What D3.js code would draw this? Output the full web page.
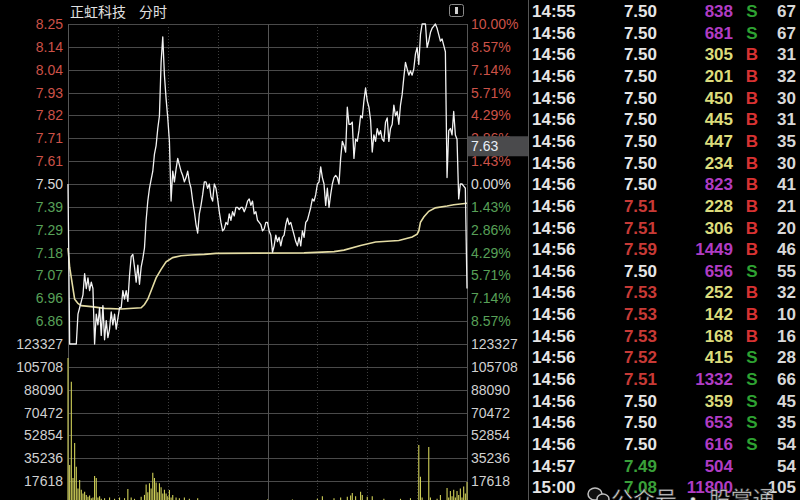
<!DOCTYPE html>
<html><head><meta charset="utf-8">
<script src="https://cdn.jsdelivr.net/npm/d3@7"></script>
<style>html,body{margin:0;padding:0;background:#000;overflow:hidden}</style>
</head><body><svg id="c" width="800" height="500"></svg>
<script>
// ---------- data ----------
const stockName = "正虹科技";
const chartKind = "分时";
const preClose = 7.50;
// price per minute, 0 = 09:30 ... 240 = 15:00
const minutePrice = [
 7.50,6.75,6.75,6.75,6.75,6.75,6.89,6.92,6.95,6.98,
 7.08,7.01,7.06,7.00,7.04,7.01,6.75,6.89,6.84,6.92,
 6.79,6.93,6.77,6.86,6.78,6.82,6.90,6.84,6.89,6.82,
 6.87,6.92,6.92,7.00,6.96,7.00,6.95,7.07,7.16,7.17,
 7.11,7.04,7.12,7.03,7.11,7.15,7.20,7.33,7.42,7.48,
 7.52,7.56,7.64,7.68,7.76,7.82,8.07,8.19,8.01,7.90,
 7.81,7.70,7.42,7.56,7.51,7.57,7.62,7.59,7.56,7.54,
 7.51,7.53,7.56,7.51,7.48,7.42,7.37,7.31,7.27,7.36,
 7.40,7.45,7.51,7.51,7.48,7.50,7.44,7.42,7.50,7.48,
 7.43,7.37,7.32,7.28,7.29,7.32,7.31,7.36,7.33,7.37,
 7.35,7.39,7.39,7.38,7.39,7.39,7.37,7.39,7.42,7.43,
 7.40,7.42,7.36,7.37,7.33,7.32,7.31,7.28,7.29,7.32,
 7.32,7.28,7.26,7.18,7.21,7.26,7.23,7.25,7.21,7.25,
 7.26,7.31,7.34,7.31,7.32,7.29,7.26,7.23,7.21,7.25,
 7.21,7.28,7.25,7.32,7.33,7.36,7.39,7.43,7.42,7.45,
 7.50,7.51,7.58,7.53,7.50,7.40,7.48,7.39,7.45,7.50,
 7.53,7.54,7.53,7.50,7.62,7.70,7.68,7.65,7.86,7.78,
 7.78,7.79,7.62,7.71,7.70,7.75,7.82,7.81,7.89,7.95,
 7.89,7.86,7.80,7.65,7.73,7.70,7.76,7.73,7.75,7.71,
 7.70,7.79,7.81,7.70,7.76,7.78,7.87,7.82,7.84,7.78,
 7.87,7.92,8.00,8.07,8.04,8.01,8.03,8.01,8.04,8.11,
 8.14,8.06,8.20,8.25,8.25,8.25,8.14,8.17,8.21,8.23,
 8.24,8.25,8.23,8.20,8.17,8.18,8.15,8.12,7.53,7.75,
 7.76,7.73,7.84,7.73,7.71,7.43,7.50,7.50,7.49,7.48,
 7.01
];
// average price line [minute, price]
const avgPrice = [[0,7.20],[1,7.11],[3,7.01],[4,6.96],[6,6.94],[8,6.93],[14,6.925],[22,6.917],[32,6.914],
 [44,6.92],[46,6.935],[48,6.96],[50,7.00],[53,7.06],[56,7.10],[59,7.135],[63,7.155],[68,7.164],[74,7.167],
 [82,7.17],[89,7.175],[142,7.177],[160,7.183],[166,7.19],[176,7.212],[185,7.228],[199,7.235],[207,7.252],
 [210,7.265],[211,7.28],[212,7.32],[214,7.345],[217,7.372],[221,7.388],[228,7.397],[232,7.403],[240,7.41]];
// visible volume bars [minute, volume]
const volumeBars = [[0,112500],[1,30000],[2,94300],[3,20000],[4,47000],[5,28700],[6,12000],[7,18500],[8,11000],
 [9,8000],[10,9500],[11,7000],[12,5500],[13,6500],[14,4500],[15,5000],[16,21500],[17,20000],[18,5000],[19,6000],
 [20,4000],[22,4500],[25,5000],[28,4000],[31,5000],[34,4500],[36,11500],[38,5000],[40,4000],[44,5500],[46,7000],
 [47,15000],[48,9000],[49,16000],[50,12000],[51,24000],[52,20000],[53,16500],[54,9000],[55,16000],[56,13000],
 [57,8000],[58,11000],[59,8000],[60,6000],[61,10800],[62,5000],[63,7000],[65,5000],[67,4500],[70,5000],[73,4000],
 [78,4500],[120,3500],[135,3500],[150,4000],[153,6000],[160,4500],[164,5000],[168,5500],[170,6500],[171,8500],
 [173,6000],[176,9500],[177,7000],[180,5500],[183,6000],[190,4000],[200,4000],[206,4500],[211,45500],[212,21000],
 [213,5000],[217,44000],[218,5000],[222,4000],[224,7000],[228,12300],[229,5000],[230,10000],[231,6000],[232,11000],
 [233,5000],[234,10000],[235,7000],[236,12000],[237,5000],[238,13400],[239,8000],[240,17000]];
const pctTicks = [10.00,8.57,7.14,5.71,4.29,2.86,1.43,0,-1.43,-2.86,-4.29,-5.71,-7.14,-8.57];
const priceTickLabels = ["8.25","8.14","8.04","7.93","7.82","7.71","7.61","7.50","7.39","7.29","7.18","7.07","6.96","6.86"];
const volTicks = [123327,105708,88090,70472,52854,35236,17618];
const timeTicks = [0,30,60,90,120,150,180,210,240];
const cursorPrice = 7.63;
// trade list
const tradeTime = ["14:55","14:56","14:56","14:56","14:56","14:56","14:56","14:56","14:56","14:56","14:56","14:56",
 "14:56","14:56","14:56","14:56","14:56","14:56","14:56","14:56","14:56","14:57","15:00"];
const tradePrice = ["7.50","7.50","7.50","7.50","7.50","7.50","7.50","7.50","7.50","7.51","7.51","7.59",
 "7.50","7.53","7.53","7.53","7.52","7.51","7.50","7.50","7.50","7.49","7.08"];
const tradeVol = [838,681,305,201,450,445,447,234,823,228,306,1449,656,252,142,168,415,1332,359,653,616,504,11800];
const tradeSide = ["S","S","B","B","B","B","B","B","B","B","B","B","S","B","B","B","S","S","S","S","S","",""];
const tradeCount = [67,67,31,32,30,31,35,30,41,21,20,46,55,32,10,16,28,66,45,35,54,54,105];
const watermark = "公众号 · 股掌通";

// ---------- drawing ----------
const svg = d3.select("#c");
svg.append("rect").attr("width",800).attr("height",500).attr("fill","#000");
const L = 68, R = 467;
const x = d3.scaleLinear().domain([0,240]).range([L,R]);
const y = d3.scaleLinear().domain([preClose*0.9, preClose*1.1]).range([344,24]);
const v = d3.scaleLinear().domain([0, volTicks[0]]).range([504,344]);
const font = "'Liberation Sans', Arial, sans-serif";

// grid horizontal
const g = svg.append("g");
pctTicks.forEach(p=>{
  const yy = Math.round(y(preClose*(1+p/100)))+0.5;
  g.append("line").attr("x1",L).attr("x2",R).attr("y1",yy).attr("y2",yy).attr("stroke","#4a4a4a");
});
volTicks.forEach(t=>{
  const yy = Math.round(v(t))+0.5;
  g.append("line").attr("x1",L).attr("x2",R).attr("y1",yy).attr("y2",yy).attr("stroke","#4a4a4a");
});
// grid vertical
timeTicks.forEach((t,i)=>{
  const xx = Math.round(x(t))+0.5;
  const solid = (t===0||t===120||t===240);
  g.append("line").attr("x1",xx).attr("x2",xx).attr("y1",24).attr("y2",500)
   .attr("stroke", solid? "#555":"#3e3e3e").attr("stroke-dasharray", solid? null : "1,2");
});
// separator
svg.append("line").attr("x1",528.5).attr("x2",528.5).attr("y1",0).attr("y2",500).attr("stroke","#555");

// volume bars
svg.append("g").selectAll("line").data(volumeBars).join("line")
  .attr("x1",d=>x(d[0])).attr("x2",d=>x(d[0])).attr("y1",v(0)).attr("y2",d=>v(d[1]))
  .attr("stroke","#d0d058").attr("stroke-width",1.1);

// avg line
svg.append("path").datum(avgPrice)
  .attr("d", d3.line().x(d=>x(d[0])).y(d=>y(d[1])))
  .attr("fill","none").attr("stroke","#e4dca4").attr("stroke-width",1.6);
// price line
svg.append("path").datum(minutePrice)
  .attr("d", d3.line().x((d,i)=>x(i)).y(d=>y(d)))
  .attr("fill","none").attr("stroke","#f2f2f2").attr("stroke-width",1.3).attr("stroke-linejoin","round");

// axis labels
const red = "#cc5248", green = "#58a058", white = "#d8d8d8";
pctTicks.forEach((p,i)=>{
  const yy = y(preClose*(1+p/100));
  const col = p>0? red : (p<0? green : white);
  svg.append("text").attr("x",63).attr("y",yy).attr("dy","0.36em").attr("text-anchor","end")
   .attr("font-family",font).attr("font-size",14).attr("fill",col).text(priceTickLabels[i]);
  svg.append("text").attr("x",471).attr("y",yy).attr("dy","0.36em")
   .attr("font-family",font).attr("font-size",14).attr("fill",col).text(Math.abs(p).toFixed(2)+"%");
});
volTicks.forEach(t=>{
  const yy = v(t);
  svg.append("text").attr("x",63).attr("y",yy).attr("dy","0.36em").attr("text-anchor","end")
   .attr("font-family",font).attr("font-size",14).attr("fill","#d0d0d0").text(t);
  svg.append("text").attr("x",471).attr("y",yy).attr("dy","0.36em")
   .attr("font-family",font).attr("font-size",14).attr("fill","#d0d0d0").text(t);
});

// cursor price box
const cy = y(cursorPrice);
svg.append("rect").attr("x",468).attr("y",cy-20).attr("width",60).attr("height",20).attr("fill","#4a4a4c");
svg.append("text").attr("x",471).attr("y",cy-5).attr("font-family",font).attr("font-size",14)
  .attr("fill","#e8eef6").text(cursorPrice.toFixed(2));

// title
svg.append("text").attr("x",70).attr("y",17).attr("font-family","'Noto Sans CJK SC',sans-serif")
  .attr("font-size",14).attr("fill","#e0e0e0").text(stockName);
svg.append("text").attr("x",139).attr("y",17).attr("font-family","'Noto Sans CJK SC',sans-serif")
  .attr("font-size",14).attr("fill","#e0e0e0").text(chartKind);
// small icon top-right
svg.append("rect").attr("x",449.5).attr("y",4.5).attr("width",14).attr("height",12).attr("rx",2)
  .attr("fill","none").attr("stroke","#8a8a8a");
svg.append("rect").attr("x",455).attr("y",7).attr("width",3).attr("height",7).attr("fill","#cfcfcf");

// trade list
const rowY = i => 17 + i*21.65;
const lf = "'Liberation Sans', Arial, sans-serif";
tradeTime.forEach((t,i)=>{
  const yy = rowY(i);
  svg.append("text").attr("x",532).attr("y",yy).attr("font-family",lf).attr("font-weight","bold")
    .attr("font-size",17).attr("fill","#e6e6e6").text(t);
  const pv = +tradePrice[i];
  const pc = pv>preClose? "#c83a36" : (pv<preClose? "#3aa03a" : "#e6e6e6");
  svg.append("text").attr("x",657).attr("y",yy).attr("text-anchor","end").attr("font-family",lf)
    .attr("font-weight","bold").attr("font-size",17).attr("fill",pc).text(tradePrice[i]);
  svg.append("text").attr("x",733).attr("y",yy).attr("text-anchor","end").attr("font-family",lf)
    .attr("font-weight","bold").attr("font-size",17)
    .attr("fill", tradeVol[i]>=500? "#b03cc4" : "#dcdc7c").text(tradeVol[i]);
  if (tradeSide[i]) {
    svg.append("text").attr("x",752).attr("y",yy).attr("text-anchor","middle").attr("font-family",lf)
      .attr("font-weight","bold").attr("font-size",17)
      .attr("fill", tradeSide[i]==="B"? "#d83232" : "#2ea232").text(tradeSide[i]);
  }
  svg.append("text").attr("x",796).attr("y",yy).attr("text-anchor","end").attr("font-family",lf)
    .attr("font-weight","bold").attr("font-size",17).attr("fill","#d8d8d8").text(tradeCount[i]);
});

// watermark
const wm = svg.append("g").attr("opacity",0.92);
wm.append("ellipse").attr("cx",595).attr("cy",494).attr("rx",7).attr("ry",6).attr("fill","#111").attr("stroke","#d0d0d0").attr("stroke-width",1.5);
wm.append("ellipse").attr("cx",603).attr("cy",499).attr("rx",6).attr("ry",5).attr("fill","#111").attr("stroke","#d0d0d0").attr("stroke-width",1.5);
wm.append("text").attr("x",611).attr("y",507).attr("font-family","'Noto Sans CJK SC',sans-serif")
  .attr("font-size",22).attr("fill","#f0f0f0").attr("stroke","#333").attr("stroke-width",0.6).text(watermark);
</script></body></html>
